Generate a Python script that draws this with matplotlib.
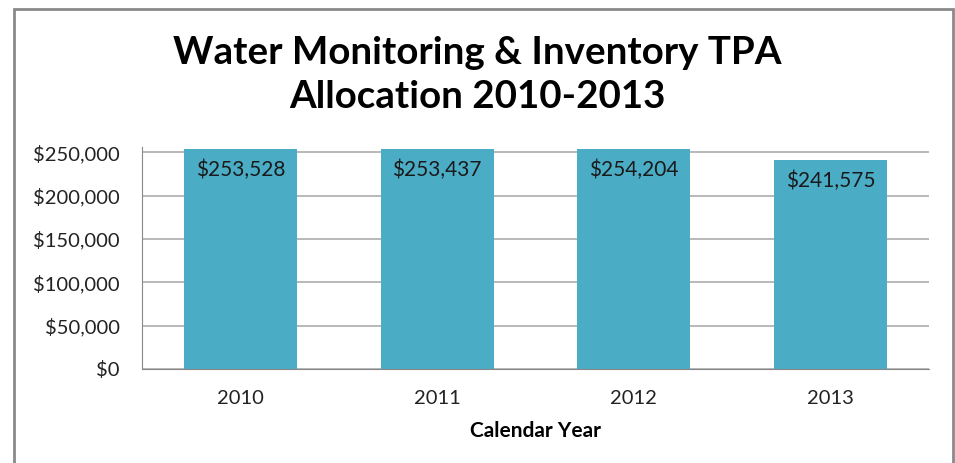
import matplotlib.pyplot as plt
from matplotlib.patches import Rectangle
from matplotlib.ticker import FuncFormatter

# ============================================
# Data
# ============================================
years = ['2010', '2011', '2012', '2013']
allocation = [253528, 253437, 254204, 241575]
y_ticks = [0, 50000, 100000, 150000, 200000, 250000]

bar_color = '#4BACC6'
grid_color = '#ADADAD'

plt.rcParams['font.family'] = ['Lato', 'DejaVu Sans']

fig = plt.figure(figsize=(9.55, 4.63), dpi=100)
ax = fig.add_axes([142 / 955, 1 - 369 / 463, (929 - 142) / 955, (369 - 147) / 463])

x = range(len(years))
bars = ax.bar(x, allocation, width=0.575, color=bar_color, zorder=2)

for rect, val in zip(bars, allocation):
    ax.annotate('${:,}'.format(val),
                (rect.get_x() + rect.get_width() / 2, rect.get_height()),
                xytext=(0, -21), textcoords='offset pixels',
                ha='center', va='center', fontsize=15, color='#1a1a1a')

ax.set_xlim(-0.5, len(years) - 0.5)
ax.set_ylim(0, 256000)
ax.set_xticks(list(x))
ax.set_xticklabels(years)
ax.set_yticks(y_ticks)
ax.yaxis.set_major_formatter(FuncFormatter(lambda v, p: '${:,.0f}'.format(v)))
ax.tick_params(axis='both', length=0, labelsize=14.5, colors='#222222')
ax.tick_params(axis='x', pad=15)
ax.tick_params(axis='y', pad=16)

ax.grid(axis='y', color=grid_color, linewidth=1.2, zorder=0)
for s in ['top', 'right']:
    ax.spines[s].set_visible(False)
ax.spines['left'].set_color('#888888')
ax.spines['bottom'].set_color('#888888')

ax.set_xlabel('Calendar Year', fontsize=15, fontweight='bold', labelpad=10)

fig.text(0.5, 1 - 75 / 463, 'Water Monitoring & Inventory TPA\nAllocation 2010-2013',
         ha='center', va='center', fontsize=27.7, fontweight='bold',
         linespacing=1.35, color='black')

# chart frame
fig.patches.append(Rectangle((14 / 955, -0.05), (953 - 14) / 955, 1.05 - 9 / 463,
                             transform=fig.transFigure, fill=False,
                             edgecolor='#8a8a8a', linewidth=2))

fig.savefig('out.png', dpi=100)
